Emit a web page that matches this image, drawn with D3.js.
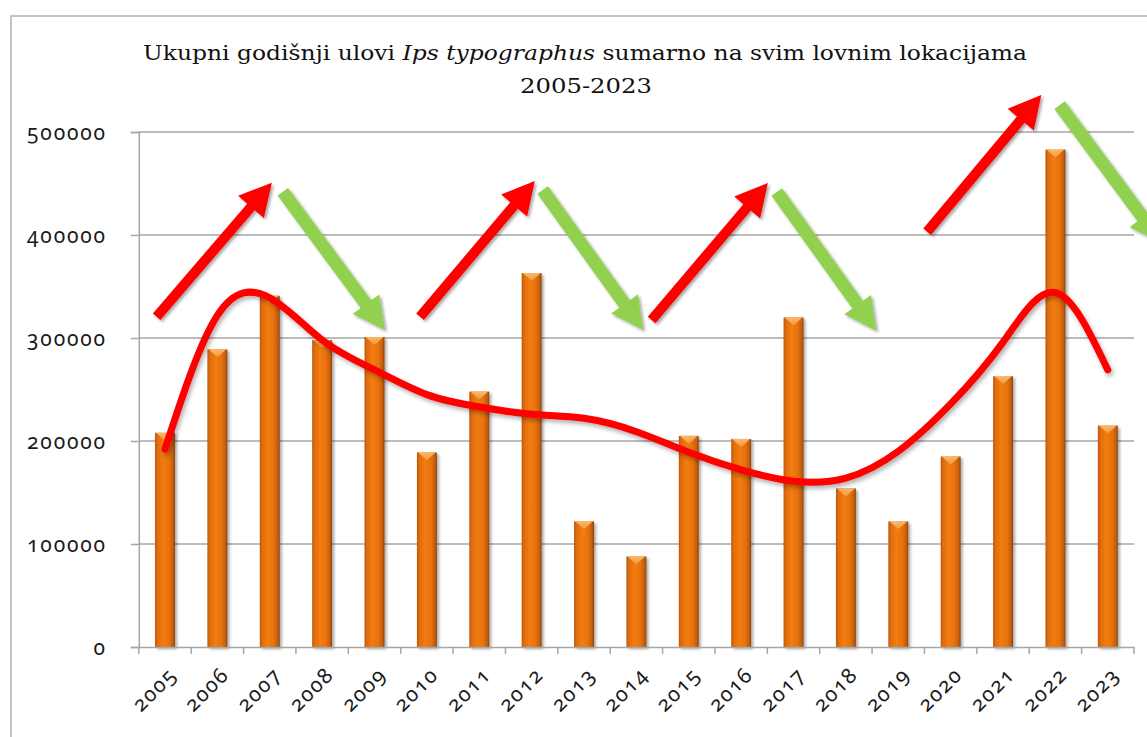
<!DOCTYPE html>
<html>
<head>
<meta charset="utf-8">
<script src="https://cdn.jsdelivr.net/npm/d3@7"></script>
<style>
  body { margin: 0; background: #fff; }
  svg { display: block; }
  .num { font-family: "Noto Sans", Lato, sans-serif; font-variant-numeric: oldstyle-nums; font-feature-settings: "onum" 1; }
</style>
</head>
<body>
<svg id="chart" width="1147" height="737"></svg>
<script>
// Annual catch totals
const years = ["2005","2006","2007","2008","2009","2010","2011","2012","2013","2014",
               "2015","2016","2017","2018","2019","2020","2021","2022","2023"];
const catches = [208000, 289000, 341000, 298000, 301000, 189000, 248000, 363000, 122000, 88000,
                 205000, 202000, 320000, 154000, 122000, 185000, 263000, 483000, 215000];
// Smoothed trend of the catch, one value per year
const trend = [192000, 322000, 339000, 298000, 269000, 245000, 233000, 226000, 222000, 209000,
               189000, 172000, 161000, 164000, 190000, 236000, 296000, 344000, 269000];
const yTicks = [0, 100000, 200000, 300000, 400000, 500000];
// Rise / fall arrows: [from year index, from value, to year index, to value]
const riseArrows = [[-0.16, 320700, 2.04, 450800], [4.87, 320700, 7.06, 452400],
                    [9.29, 317500, 11.51, 450500], [14.55, 403200, 16.73, 535900]];
const fallArrows = [[2.25, 442000, 4.20, 307800], [7.21, 443700, 9.13, 307800],
                    [11.68, 441700, 13.58, 307100], [17.08, 526200, 19.03, 392200]];
const titleStart = "Ukupni godišnji ulovi ";
const titleSpecies = "Ips typographus";
const titleEnd = " sumarno na svim lovnim lokacijama";
const titleYears = "2005-2023";

const svg = d3.select("#chart");
const W = 1147, H = 737;
const plot = { left: 138.8, right: 1134, top: 132, bottom: 647 };

const x = d3.scaleBand().domain(years).range([plot.left, plot.right]).paddingInner(0.62).paddingOuter(0.31);
const y = d3.scaleLinear().domain([0, 500000]).range([plot.bottom, plot.top]);
const xi = d3.scaleLinear().domain([0, years.length - 1])
  .range([x(years[0]) + x.bandwidth() / 2, x(years[years.length - 1]) + x.bandwidth() / 2]);

const defs = svg.append("defs");
const shadow = defs.append("filter").attr("id", "shadow")
  .attr("x", "-20%").attr("y", "-20%").attr("width", "140%").attr("height", "140%");
shadow.append("feDropShadow").attr("dx", 2).attr("dy", 2).attr("stdDeviation", 1.6)
  .attr("flood-color", "#000").attr("flood-opacity", 0.35);
const lineShadow = defs.append("filter").attr("id", "lineShadow")
  .attr("x", "-5%").attr("y", "-20%").attr("width", "110%").attr("height", "140%");
lineShadow.append("feDropShadow").attr("dx", 2).attr("dy", 3).attr("stdDeviation", 2)
  .attr("flood-color", "#000").attr("flood-opacity", 0.3);

const barGrad = defs.append("linearGradient").attr("id", "barGrad")
  .attr("x1", "0").attr("x2", "1").attr("y1", "0").attr("y2", "0");
[["0%", "#b8560a"], ["12%", "#e06c0c"], ["40%", "#f27c12"], ["70%", "#e8720e"], ["90%", "#c45e08"], ["100%", "#8c4206"]]
  .forEach(([o, c]) => barGrad.append("stop").attr("offset", o).attr("stop-color", c));
const capGrad = defs.append("linearGradient").attr("id", "capGrad")
  .attr("x1", "0").attr("x2", "0").attr("y1", "0").attr("y2", "1");
capGrad.append("stop").attr("offset", "0%").attr("stop-color", "#fbc07a");
capGrad.append("stop").attr("offset", "100%").attr("stop-color", "#f59a3a");

svg.append("rect").attr("width", W).attr("height", H).attr("fill", "#fff");

// Outer chart frame
svg.append("path").attr("d", `M11,${H + 5} V16 H${W + 5}`)
  .attr("fill", "none").attr("stroke", "#c4c4c4").attr("stroke-width", 2);

// Title
const title = svg.append("text").attr("x", 585).attr("y", 60)
  .attr("text-anchor", "middle").attr("font-family", "'DejaVu Serif', serif")
  .attr("font-size", 21).attr("fill", "#111");
title.append("tspan").text(titleStart);
title.append("tspan").attr("font-style", "italic").text(titleSpecies);
title.append("tspan").text(titleEnd);
title.attr("textLength", 884).attr("lengthAdjust", "spacingAndGlyphs");
svg.append("text").attr("x", 586).attr("y", 93)
  .attr("text-anchor", "middle").attr("font-family", "'DejaVu Serif', serif")
  .attr("font-size", 21).attr("fill", "#111").text(titleYears)
  .attr("textLength", 132).attr("lengthAdjust", "spacingAndGlyphs");

// Gridlines
svg.append("g").selectAll("line").data(yTicks.slice(1)).join("line")
  .attr("x1", plot.left).attr("x2", plot.right)
  .attr("y1", d => y(d)).attr("y2", d => y(d))
  .attr("stroke", "#a6a6a6").attr("stroke-width", 1.5);

// Y axis
const yAxis = svg.append("g").attr("transform", `translate(${plot.left},0)`)
  .call(d3.axisLeft(y).tickValues(yTicks).tickSize(8).tickPadding(24).tickFormat(d3.format("d")));
yAxis.attr("font-family", null).attr("font-size", null);
yAxis.select(".domain").attr("stroke", "#a6a6a6").attr("stroke-width", 1.5);
yAxis.selectAll(".tick line").attr("stroke", "#a6a6a6").attr("stroke-width", 1.5);
yAxis.selectAll(".tick text")
  .attr("class", "num").style("font-size", "21px")
  .attr("fill", "#1a1a1a").attr("dy", "0.34em").attr("letter-spacing", 1.8);

// Bars
const bars = svg.append("g").attr("filter", "url(#shadow)");
bars.selectAll("rect").data(catches).join("rect")
  .attr("x", (d, i) => x(years[i])).attr("width", x.bandwidth())
  .attr("y", d => y(d)).attr("height", d => y(0) - y(d))
  .attr("fill", "url(#barGrad)");
svg.append("g").selectAll("path").data(catches).join("path")
  .attr("d", (d, i) => {
    const x0 = x(years[i]), w = x.bandwidth(), t = y(d);
    return `M${x0 + 1},${t} H${x0 + w - 1} L${x0 + w / 2},${t + 8} Z`;
  })
  .attr("fill", "url(#capGrad)").attr("opacity", 0.9);

// X axis
const xAxis = svg.append("g").attr("transform", `translate(0,${plot.bottom})`)
  .call(d3.axisBottom(x).tickSize(0).tickFormat(""));
xAxis.select(".domain").attr("stroke", "#a6a6a6").attr("stroke-width", 1.5);
const step = x.step();
svg.append("g").selectAll("line").data(d3.range(years.length + 1)).join("line")
  .attr("x1", i => plot.left + i * step).attr("x2", i => plot.left + i * step)
  .attr("y1", plot.bottom).attr("y2", plot.bottom + 7)
  .attr("stroke", "#a6a6a6").attr("stroke-width", 1.5);
svg.append("g").selectAll("text").data(years).join("text")
  .attr("transform", d => `translate(${x(d) + x.bandwidth() / 2 + 13},${plot.bottom + 29}) rotate(-45)`)
  .attr("text-anchor", "end")
  .attr("class", "num").style("font-size", "21px")
  .attr("fill", "#1a1a1a").attr("letter-spacing", 1.6)
  .text(d => d);

// Trend curve
const line = d3.line().x((d, i) => xi(i)).y(d => y(d)).curve(d3.curveNatural);
svg.append("path").datum(trend).attr("d", line)
  .attr("fill", "none").attr("stroke", "#ff0000").attr("stroke-width", 7)
  .attr("stroke-linecap", "round").attr("filter", "url(#lineShadow)");

// Arrows
function arrowPath(a, shaft, headW, headL) {
  const x0 = xi(a[0]), y0 = y(a[1]), x1 = xi(a[2]), y1 = y(a[3]);
  const dx = x1 - x0, dy = y1 - y0, len = Math.hypot(dx, dy);
  const ux = dx / len, uy = dy / len, nx = -uy, ny = ux;
  const bx = x1 - ux * headL, by = y1 - uy * headL;
  const p = [
    [x0 + nx * shaft / 2, y0 + ny * shaft / 2],
    [bx + nx * shaft / 2, by + ny * shaft / 2],
    [bx + nx * headW / 2, by + ny * headW / 2],
    [x1, y1],
    [bx - nx * headW / 2, by - ny * headW / 2],
    [bx - nx * shaft / 2, by - ny * shaft / 2],
    [x0 - nx * shaft / 2, y0 - ny * shaft / 2]
  ];
  return "M" + p.map(q => q.join(",")).join("L") + "Z";
}
const arrows = svg.append("g").attr("filter", "url(#shadow)");
arrows.selectAll(".rise").data(riseArrows).join("path").attr("class", "rise")
  .attr("d", d => arrowPath(d, 10, 34, 32)).attr("fill", "#ff0000");
arrows.selectAll(".fall").data(fallArrows).join("path").attr("class", "fall")
  .attr("d", d => arrowPath(d, 13, 33, 32)).attr("fill", "#92d050");
</script>
</body>
</html>
